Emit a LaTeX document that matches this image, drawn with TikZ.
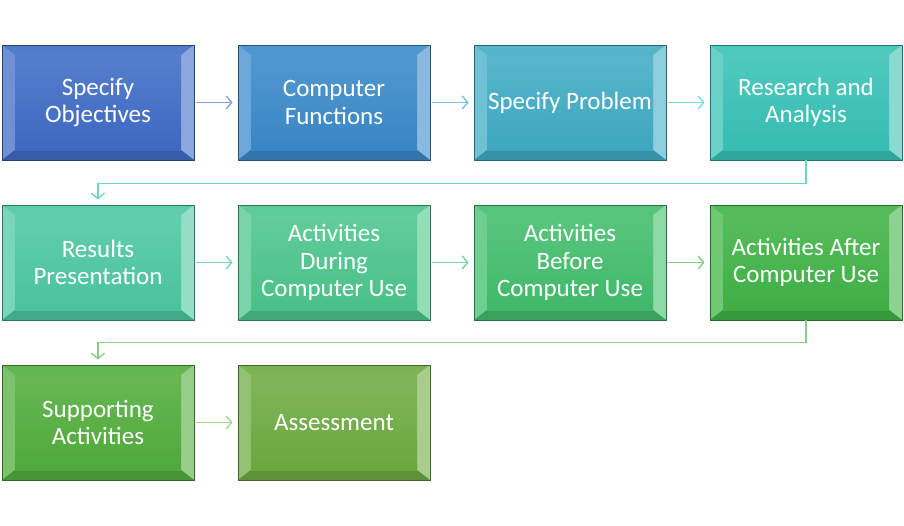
\documentclass[tikz,border=0pt]{standalone}
\usepackage{fontspec}
\setmainfont{Carlito}
\usetikzlibrary{arrows.meta}
\definecolor{c1}{HTML}{3F6CC6}
\definecolor{c2}{HTML}{3A8ACA}
\definecolor{c3}{HTML}{40ACC4}
\definecolor{c4}{HTML}{38C2B6}
\definecolor{c5}{HTML}{4CC8A0}
\definecolor{c6}{HTML}{4CC68C}
\definecolor{c7}{HTML}{42BE6C}
\definecolor{c8}{HTML}{40B446}
\definecolor{c9}{HTML}{52AE3C}
\definecolor{c10}{HTML}{6EAC42}
\definecolor{a1}{HTML}{86A4DE}
\definecolor{a2}{HTML}{78C0E6}
\definecolor{a3}{HTML}{78DCD8}
\definecolor{a4}{HTML}{6CD6C4}
\definecolor{a5}{HTML}{7CD8B0}
\definecolor{a6}{HTML}{76D49E}
\definecolor{a7}{HTML}{80CE84}
\definecolor{a8}{HTML}{88CE86}
\definecolor{a9}{HTML}{A4D68C}
\tikzset{
  bev/.style={rectangle, minimum width=192pt, minimum height=115pt, inner sep=0pt,
    fill=#1, draw=#1!60!black, line width=0.8pt, text=white, align=center,
    font=\fontsize{25}{27.5}\selectfont,
    path picture={
      \fill[#1!90!white] (path picture bounding box.north west) -- (path picture bounding box.north east)
        -- ([shift={(-13pt,-10pt)}]path picture bounding box.north east)
        -- ([shift={(13pt,-10pt)}]path picture bounding box.north west) -- cycle;
      \fill[#1!75!white] (path picture bounding box.north west) -- (path picture bounding box.south west)
        -- ([shift={(13pt,10pt)}]path picture bounding box.south west)
        -- ([shift={(13pt,-10pt)}]path picture bounding box.north west) -- cycle;
      \fill[#1!60!white] (path picture bounding box.north east) -- (path picture bounding box.south east)
        -- ([shift={(-13pt,10pt)}]path picture bounding box.south east)
        -- ([shift={(-13pt,-10pt)}]path picture bounding box.north east) -- cycle;
      \fill[#1!85!black] (path picture bounding box.south west) -- (path picture bounding box.south east)
        -- ([shift={(-13pt,10pt)}]path picture bounding box.south east)
        -- ([shift={(13pt,10pt)}]path picture bounding box.south west) -- cycle;
      \shade[top color=#1!88!white, bottom color=#1!97!black]
        ([shift={(13pt,-10pt)}]path picture bounding box.north west)
        rectangle ([shift={(-13pt,10pt)}]path picture bounding box.south east);
    }},
  arr/.style={draw=#1, line width=1.4pt, -{Straight Barb[length=5.5pt,width=13pt]}, shorten >=5pt, shorten <=2pt},
}
\begin{document}
\begin{tikzpicture}[x=1pt,y=1pt]
\useasboundingbox (0,0) rectangle (904,-525);
\node[bev=c1] (n1) at (98,-102.5) {Specify\\Objectives};
\node[bev=c2] (n2) at (334,-102.5) {Computer\\Functions};
\node[bev=c3] (n3) at (570,-102.5) {Specify Problem};
\node[bev=c4] (n4) at (806,-102.5) {Research and\\Analysis};
\node[bev=c5] (n5) at (98,-262.5) {Results\\Presentation};
\node[bev=c6] (n6) at (334,-262.5) {Activities\\During\\Computer Use};
\node[bev=c7] (n7) at (570,-262.5) {Activities\\Before\\Computer Use};
\node[bev=c8] (n8) at (806,-262.5) {Activities After\\Computer Use};
\node[bev=c9] (n9) at (98,-422.5) {Supporting\\Activities};
\node[bev=c10] (n10) at (334,-422.5) {Assessment};
\draw[arr=a1] (n1) -- (n2);
\draw[arr=a2] (n2) -- (n3);
\draw[arr=a3] (n3) -- (n4);
\draw[arr=a4, shorten <=0pt] (n4.south) -- ++(0,-23) -| (n5.north);
\draw[arr=a5] (n5) -- (n6);
\draw[arr=a6] (n6) -- (n7);
\draw[arr=a7] (n7) -- (n8);
\draw[arr=a8, shorten <=0pt] (n8.south) -- ++(0,-22) -| (n9.north);
\draw[arr=a9] (n9) -- (n10);
\end{tikzpicture}
\end{document}
